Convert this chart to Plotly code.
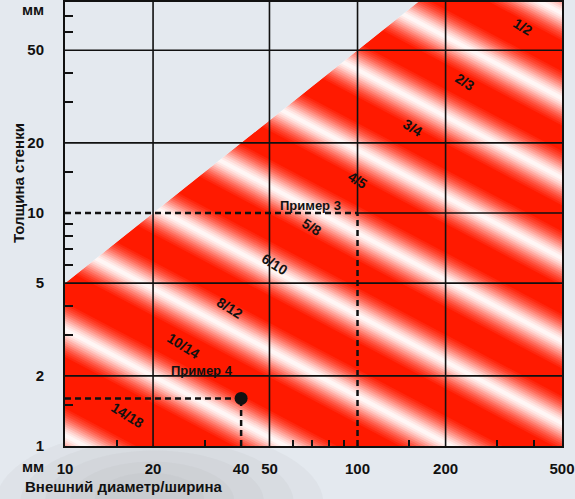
import math
import plotly.graph_objects as go

# axis values (mm)
x_ticks = [10, 20, 40, 50, 100, 200, 500]
y_ticks = [1, 2, 5, 10, 20, 50]
x_minor = [15, 30, 60, 70, 80, 90, 150, 300, 400]
y_minor = [1.5, 3, 4, 6, 7, 8, 9, 15, 30, 40, 60, 70]
grid_x = [20, 50, 100, 200]
grid_y = [2, 5, 10, 20, 50]

# limit line: wall thickness = diameter / 2
limit_d = [8, 200]
limit_t = [4, 100]

# white stripe centre lines (thickness at the left / right ends)
stripe_d = [9, 560]
stripe_t_left = [1040, 450, 204, 92, 40.6, 18.1, 8.05, 3.38, 1.19]
stripe_t_right = [66.8, 28.8, 13.1, 5.93, 2.61, 1.16, 0.52, 0.22, 0.076]

ratio_labels = ["1/2", "2/3", "3/4", "4/5", "5/8", "6/10", "8/12", "10/14", "14/18"]
ratio_d = [368, 233, 155, 100, 69.8, 51.9, 36.6, 25.5, 16.3]
ratio_t = [62.8, 36.5, 23.2, 13.9, 8.71, 6.04, 3.91, 2.69, 1.36]

example_names = ["Пример 3", "Пример 4"]
example_d = [100, 40]
example_t = [10, 1.6]
example_label_d = [68.9, 29.4]
example_label_t = [10.8, 2.10]

x_lo, x_hi = 10, 500
y_lo, y_hi = 1, 80.5

BG = "rgb(228,233,239)"
RED = "rgb(255,26,0)"
INK = "#111111"
FONT = "Liberation Sans, Arial, sans-serif"

fig = go.Figure()

# red area below the limit line
fig.add_trace(go.Scatter(
    x=[limit_d[0], limit_d[1], 1000, 1000, limit_d[0]],
    y=[limit_t[0], limit_t[1], limit_t[1], 0.5, 0.5],
    fill="toself", fillcolor=RED, mode="none", hoverinfo="skip"))

# soft white stripes: stacked translucent lines, wide+faint to narrow+solid
sx, sy = [], []
for tl, tr in zip(stripe_t_left, stripe_t_right):
    sx += [stripe_d[0], stripe_d[1], None]
    sy += [tl, tr, None]
widths = [48, 44, 40, 36, 32, 28, 24, 20, 16, 12, 8, 4]
alphas = [0.06, 0.07, 0.08, 0.1, 0.12, 0.15, 0.18, 0.22, 0.28, 0.35, 0.45, 0.6]
for w, a in zip(widths, alphas):
    fig.add_trace(go.Scatter(x=sx, y=sy, mode="lines",
                             line=dict(color=f"rgba(255,255,255,{a})", width=w),
                             hoverinfo="skip"))

# cover above the limit line
fig.add_trace(go.Scatter(
    x=[limit_d[0], limit_d[1], limit_d[0]],
    y=[limit_t[0], limit_t[1], limit_t[1]],
    fill="toself", fillcolor=BG, mode="none", hoverinfo="skip"))

# grid
gx, gy = [], []
for g in grid_x:
    y0 = example_t[0] if g == example_d[0] else y_lo
    gx += [g, g, None]
    gy += [y0, y_hi, None]
for g in grid_y:
    x0 = example_d[0] if g == example_t[0] else x_lo
    gx += [x0, x_hi, None]
    gy += [g, g, None]
fig.add_trace(go.Scatter(x=gx, y=gy, mode="lines",
                         line=dict(color=INK, width=1.6), hoverinfo="skip"))

# example guide lines
dx, dy = [], []
for d, t in zip(example_d, example_t):
    dx += [x_lo, d, None, d, d, None]
    dy += [t, t, None, y_lo, t, None]
fig.add_trace(go.Scatter(x=dx, y=dy, mode="lines",
                         line=dict(color=INK, width=2.5, dash="6px,4px"),
                         hoverinfo="skip"))
fig.add_trace(go.Scatter(x=example_d[1:], y=example_t[1:], mode="markers",
                         marker=dict(color=INK, size=13), hoverinfo="skip"))

for txt, d, t in zip(ratio_labels, ratio_d, ratio_t):
    fig.add_annotation(x=math.log10(d), y=math.log10(t), text=txt, showarrow=False,
                       textangle=32, font=dict(family=FONT, size=14, color=INK, weight="bold"))
for txt, d, t in zip(example_names, example_label_d, example_label_t):
    fig.add_annotation(x=math.log10(d), y=math.log10(t), text=txt, showarrow=False,
                       font=dict(family=FONT, size=13, color=INK, weight="bold"))

# axis captions
cap = dict(family=FONT, size=15, color=INK, weight="bold")
mid = dict(xref="paper", yref="paper", showarrow=False, font=cap,
           xanchor="center", yanchor="middle")
fig.add_annotation(x=-0.064, y=0.984, text="мм", **mid)
fig.add_annotation(x=-0.064, y=-0.047, text="мм", **mid)
fig.add_annotation(x=-0.085, y=-0.092, text="Внешний диаметр/ширина",
                   **{**mid, "xanchor": "left"})
fig.add_annotation(x=-0.095, y=0.592, textangle=-90, text="Толщина стенки", **mid)

# grey haze at the bottom left
for i in range(5):
    fig.add_shape(type="circle", xref="paper", yref="paper", layer="below",
                  x0=-0.14 + i * 0.05, x1=0.52 - i * 0.06,
                  y0=-0.3 + i * 0.03, y1=0.04 - i * 0.025,
                  fillcolor="rgba(150,150,150,0.08)", line_width=0)

tick_font = dict(family=FONT, size=15, color=INK, weight="bold")
fig.update_xaxes(type="log", range=[math.log10(x_lo), math.log10(x_hi)],
                 tickvals=x_ticks, ticktext=[str(v) for v in x_ticks],
                 ticks="", ticklabelstandoff=8, showgrid=False, zeroline=False,
                 showline=True, linecolor=INK, linewidth=2, mirror=True,
                 automargin=False, tickfont=tick_font,
                 minor=dict(tickvals=x_minor, ticks="inside", ticklen=6,
                            tickwidth=1.5, tickcolor=INK, showgrid=False))
fig.update_yaxes(type="log", range=[math.log10(y_lo), math.log10(y_hi)],
                 tickvals=y_ticks, ticktext=[str(v) for v in y_ticks],
                 ticks="", ticklabelstandoff=16, showgrid=False, zeroline=False,
                 showline=True, linecolor=INK, linewidth=2, mirror=True,
                 automargin=False, tickfont=tick_font,
                 minor=dict(tickvals=y_minor, ticks="inside", ticklen=8,
                            tickwidth=1.5, tickcolor=INK, showgrid=False))

fig.update_layout(width=575, height=499, showlegend=False,
                  margin=dict(l=65, r=13, t=2, b=53),
                  paper_bgcolor=BG, plot_bgcolor=BG)

fig.write_html("out.html", config={"displayModeBar": False},
               post_script="document.body.style.margin='0';"
                           "document.body.style.background='rgb(228,233,239)';")
